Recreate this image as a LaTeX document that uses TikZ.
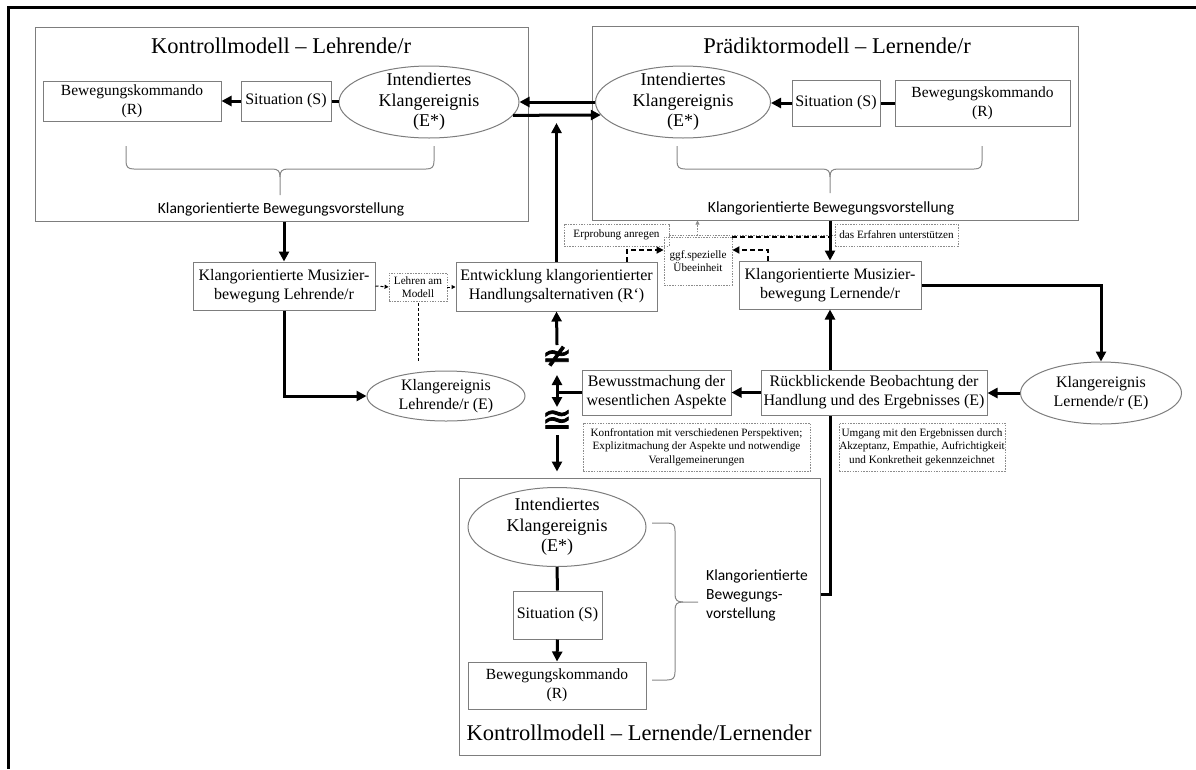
\documentclass[tikz,border=0pt]{standalone}
\usepackage{fontspec}
\setmainfont{Liberation Serif}
\newfontfamily\labelsans{Carlito}
\newfontfamily\symfont[FakeBold=2]{DejaVu Sans}
\usetikzlibrary{arrows.meta,calc,shapes.geometric}

\definecolor{boxgray}{RGB}{125,125,125}
\definecolor{notegray}{RGB}{140,140,140}
\definecolor{bracegray}{RGB}{135,135,135}

\tikzset{
  frame/.style={draw=boxgray, line width=1pt, inner sep=0pt},
  box/.style={draw=boxgray, line width=1pt, inner sep=0pt, align=center,
    font=\fontsize{16}{19}\selectfont},
  cmdbox/.style={box, font=\fontsize{15.5}{19}\selectfont},
  oval/.style={ellipse, draw=boxgray, line width=1pt, inner sep=0pt},
  ovaltext/.style={align=center, inner sep=0pt, font=\fontsize{18}{20.5}\selectfont},
  smallovaltext/.style={align=center, inner sep=0pt, font=\fontsize{16}{19.5}\selectfont},
  title/.style={inner sep=0pt, font=\fontsize{22.5}{26}\selectfont},
  sanslabel/.style={inner sep=0pt, font=\labelsans\fontsize{15.5}{19}\selectfont},
  note/.style={draw=notegray, line width=0.8pt, dash pattern=on 1.5pt off 1.2pt,
    inner sep=0pt, align=center, font=\fontsize{11.2}{13.6}\selectfont},
  flow/.style={line width=3pt},
  flowarrow/.style={line width=3pt, -{Triangle[length=10pt,width=10pt]}},
  flowboth/.style={line width=3pt,
    {Triangle[length=10pt,width=10pt]}-{Triangle[length=10pt,width=10pt]}},
  hint/.style={line width=2pt, dash pattern=on 5pt off 3pt},
  hintarrow/.style={hint, -{Triangle[length=7pt,width=7pt]}},
  modelhint/.style={line width=1pt, dash pattern=on 3pt off 2pt},
  modeltip/.style={modelhint, -{Triangle[length=4pt,width=4pt]}},
  dotline/.style={draw=notegray, line width=0.8pt, dash pattern=on 1.5pt off 1.2pt},
  brace/.style={draw=bracegray, line width=1pt},
  relsym/.style={inner sep=0pt, font=\symfont\fontsize{36}{36}\selectfont},
}

\begin{document}
\begin{tikzpicture}[x=1pt,y=-1pt]
\useasboundingbox (0,0) rectangle (1196,769);

% page frame: top and left edges
\draw[line width=3pt] (1196,7) -- (8,7) -- (8,769);

% ---------- control model, teacher ----------
\node[frame, minimum width=493pt, minimum height=194pt] (LB) at (281.5,124) {};
\node[title] (tLB) at (281,46) {Kontrollmodell – Lehrende/r};
\node[cmdbox, minimum width=178pt, minimum height=40pt] (bkL) at (132,101) {Bewegungskommando\\(R)};
\node[box, minimum width=90pt, minimum height=40pt] (sitL) at (286,101) {Situation (S)};
\node[oval, minimum width=180pt, minimum height=72pt] (ellL) at (429,102) {};
\node[ovaltext] (ellLtxt) at (ellL) {Intendiertes\\Klangereignis\\(E*)};
\draw[flowarrow] (sitL.west) -- (bkL.east);
\draw[flow] (sitL.east) -- (ellL.west |- sitL.east);
\draw[brace] (126,146) -- (126,161) .. controls (126,167) and (128,169) .. (134,169)
  -- (272,169) .. controls (278,169) and (280,171) .. (280,177) -- (280,195);
\draw[brace] (434,146) -- (434,161) .. controls (434,167) and (432,169) .. (426,169)
  -- (288,169) .. controls (282,169) and (280,171) .. (280,177);
\node[sanslabel] (lLB) at (281,209) {Klangorientierte Bewegungsvorstellung};

% ---------- predictor model, learner ----------
\node[frame, minimum width=486pt, minimum height=194pt] (RB) at (835,123) {};
\node[title] (tRB) at (837,46) {Prädiktormodell – Lernende/r};
\node[oval, minimum width=175pt, minimum height=72pt] (ellR) at (683,102) {};
\node[ovaltext] (ellRtxt) at (ellR) {Intendiertes\\Klangereignis\\(E*)};
\node[box, minimum width=88pt, minimum height=46pt] (sitR) at (836,103) {Situation (S)};
\node[cmdbox, minimum width=175pt, minimum height=46pt] (bkR) at (982.5,103) {Bewegungskommando\\(R)};
\draw[flowarrow] (sitR.west) -- (ellR.east |- sitR.west);
\draw[flow] (bkR.west) -- (sitR.east);
\draw[brace] (677,146) -- (677,161) .. controls (677,167) and (679,169) .. (685,169)
  -- (822,169) .. controls (828,169) and (830,171) .. (830,177) -- (830,193);
\draw[brace] (982,146) -- (982,161) .. controls (982,167) and (980,169) .. (974,169)
  -- (838,169) .. controls (832,169) and (830,171) .. (830,177);
\node[sanslabel] (lRB) at (831,208) {Klangorientierte Bewegungsvorstellung};

% exchange between the two intended sound events
\draw[flowarrow] (ellR.west) -- (ellL.east);
\draw[flowarrow] (ellL.-9) -- (ellR.189);

% ---------- middle row ----------
\node[box, minimum width=182pt, minimum height=48pt] (ML) at (284,286) {Klangorientierte Musizier-\\bewegung Lehrende/r};
\node[note, minimum width=58pt, minimum height=28pt] (LM) at (418,287) {Lehren am\\Modell};
\node[box, minimum width=201pt, minimum height=49pt] (EW) at (556.5,286.5) {Entwicklung klangorientierter\\Handlungsalternativen (R‘)};
\node[note, minimum width=105pt, minimum height=22pt] (EA) at (616.5,235) {Erprobung anregen};
\node[note, minimum width=123pt, minimum height=22pt] (DE) at (896.5,235) {das Erfahren unterstützen};
\node[note, minimum width=68pt, minimum height=48pt] (GG) at (698,261) {ggf.spezielle\\Übeeinheit};
\node[box, minimum width=182pt, minimum height=48pt] (MR) at (830,285) {Klangorientierte Musizier-\\bewegung Lernende/r};

\node[oval, minimum width=158pt, minimum height=50pt] (KL) at (446,396) {};
\node[smallovaltext] (KLtxt) at (KL) {Klangereignis\\Lehrende/r (E)};
\node[oval, minimum width=161pt, minimum height=62pt] (KLr) at (1101,393) {};
\node[smallovaltext] (KLrtxt) at (KLr) {Klangereignis\\Lernende/r (E)};

\node[box, minimum width=149pt, minimum height=45pt] (BW) at (656.5,392.5) {Bewusstmachung der\\wesentlichen Aspekte};
\node[box, minimum width=226pt, minimum height=45pt] (RBO) at (874,392.5) {Rückblickende Beobachtung der\\Handlung und des Ergebnisses (E)};

\node[note, minimum width=227pt, minimum height=48pt] (KF) at (696.5,447) {Konfrontation mit verschiedenen Perspektiven;\\Explizitmachung der Aspekte und notwendige\\Verallgemeinerungen};
\node[note, minimum width=166pt, minimum height=48pt] (UM) at (922,447) {Umgang mit den Ergebnissen durch\\Akzeptanz, Empathie, Aufrichtigkeit\\und Konkretheit gekennzeichnet};

% relation symbols and the ends of the strokes around them
\node[relsym] (neq) at (557,357) {≄};
\node[relsym] (aeq) at (557,421) {≊};
\coordinate (neqTop) at ($(neq.center)+(0,-12)$);
\coordinate (neqBot) at ($(neq.center)+(0,18)$);
\coordinate (aeqTop) at ($(aeq.center)+(0,-14)$);
\coordinate (aeqBot) at ($(aeq.center)+(0,14)$);

% teacher path
\draw[flowarrow] (ML.north |- LB.south) -- (ML.north);
\draw[flowarrow] (ML.south) |- (KL.west);
\draw[modeltip] (ML.east) -- (LM.west);
\draw[modeltip] (LM.east) -- (LM.east -| EW.west);
\draw[modelhint, shorten <=10pt] (LM.south |- KL.north) -- (LM.south);

% development of alternatives
\coordinate (ewTip) at (557,123);
\draw[flowarrow] (EW.north) -- (EW.north |- ewTip);
\draw[flowarrow] (neqTop) -- (EW.south);
\draw[flowboth] (neqBot) -- (aeqTop);
\draw[flow] (BW.west) -- (BW.west -| neq.center);

% hints around the practice unit
\draw[dotline] (EA.east) -- (DE.west);
\coordinate (erpMid) at ($(EA.east)!0.17!(DE.west)$);
\draw[dotline, -{Triangle[length=4pt,width=4pt]}] (erpMid) -- (erpMid |- RB.south);
\draw[hintarrow] ($(EW.north)+(70,0)$) |- ($(GG.west)+(0,-11)$);
\draw[hintarrow] ($(MR.north)+(-62,0)$) |- ($(GG.east)+(0,-11)$);
\draw[hint] (GG.north east) -- (GG.north east -| MR.north);

% learner path
\draw[flowarrow] (MR.north |- RB.south) -- (MR.north);
\draw[flowarrow] (MR.east) -| (KLr.north);
\draw[flowarrow] (KLr.west) -- (KLr.west -| RBO.east);
\draw[flowarrow] (RBO.west) -- (BW.east);
\draw[flowarrow] (MR.south |- RBO.north) -- (MR.south);

% ---------- control model, learner ----------
\node[frame, minimum width=361pt, minimum height=277pt] (BB) at (639.5,616.5) {};
\node[title] (tBB) at (639,733) {Kontrollmodell – Lernende/Lernender};
\node[oval, minimum width=178pt, minimum height=79pt] (ellB) at (557,527) {};
\node[ovaltext] (ellBtxt) at (ellB) {Intendiertes\\Klangereignis\\(E*)};
\node[box, minimum width=89pt, minimum height=48pt] (sitB) at (557.5,615) {Situation (S)};
\node[cmdbox, minimum width=178pt, minimum height=47pt] (bkB) at (557,685.5) {Bewegungskommando\\(R)};
\draw[flow] (ellB.south) -- (sitB.north);
\draw[flowarrow] (sitB.south) -- (bkB.north);
\draw[brace] (652,523) -- (667,523) .. controls (673,523) and (675,525) .. (675,531)
  -- (675,594) .. controls (675,600) and (677,602) .. (683,602) -- (698,602);
\draw[brace] (652,680) -- (667,680) .. controls (673,680) and (675,678) .. (675,672)
  -- (675,610) .. controls (675,604) and (677,602) .. (683,602);
\node[sanslabel, anchor=west, align=left] (lBB) at (706,595) {Klangorientierte\\Bewegungs-\\vorstellung};

\draw[flowarrow, shorten >=6pt] (aeqBot) -- (BB.north -| aeqBot);
\coordinate (bbOut) at ($(BB.east)+(0,-22.5)$);
\draw[flow] (bbOut) -| (MR.south |- RBO.south);
\end{tikzpicture}
\end{document}
